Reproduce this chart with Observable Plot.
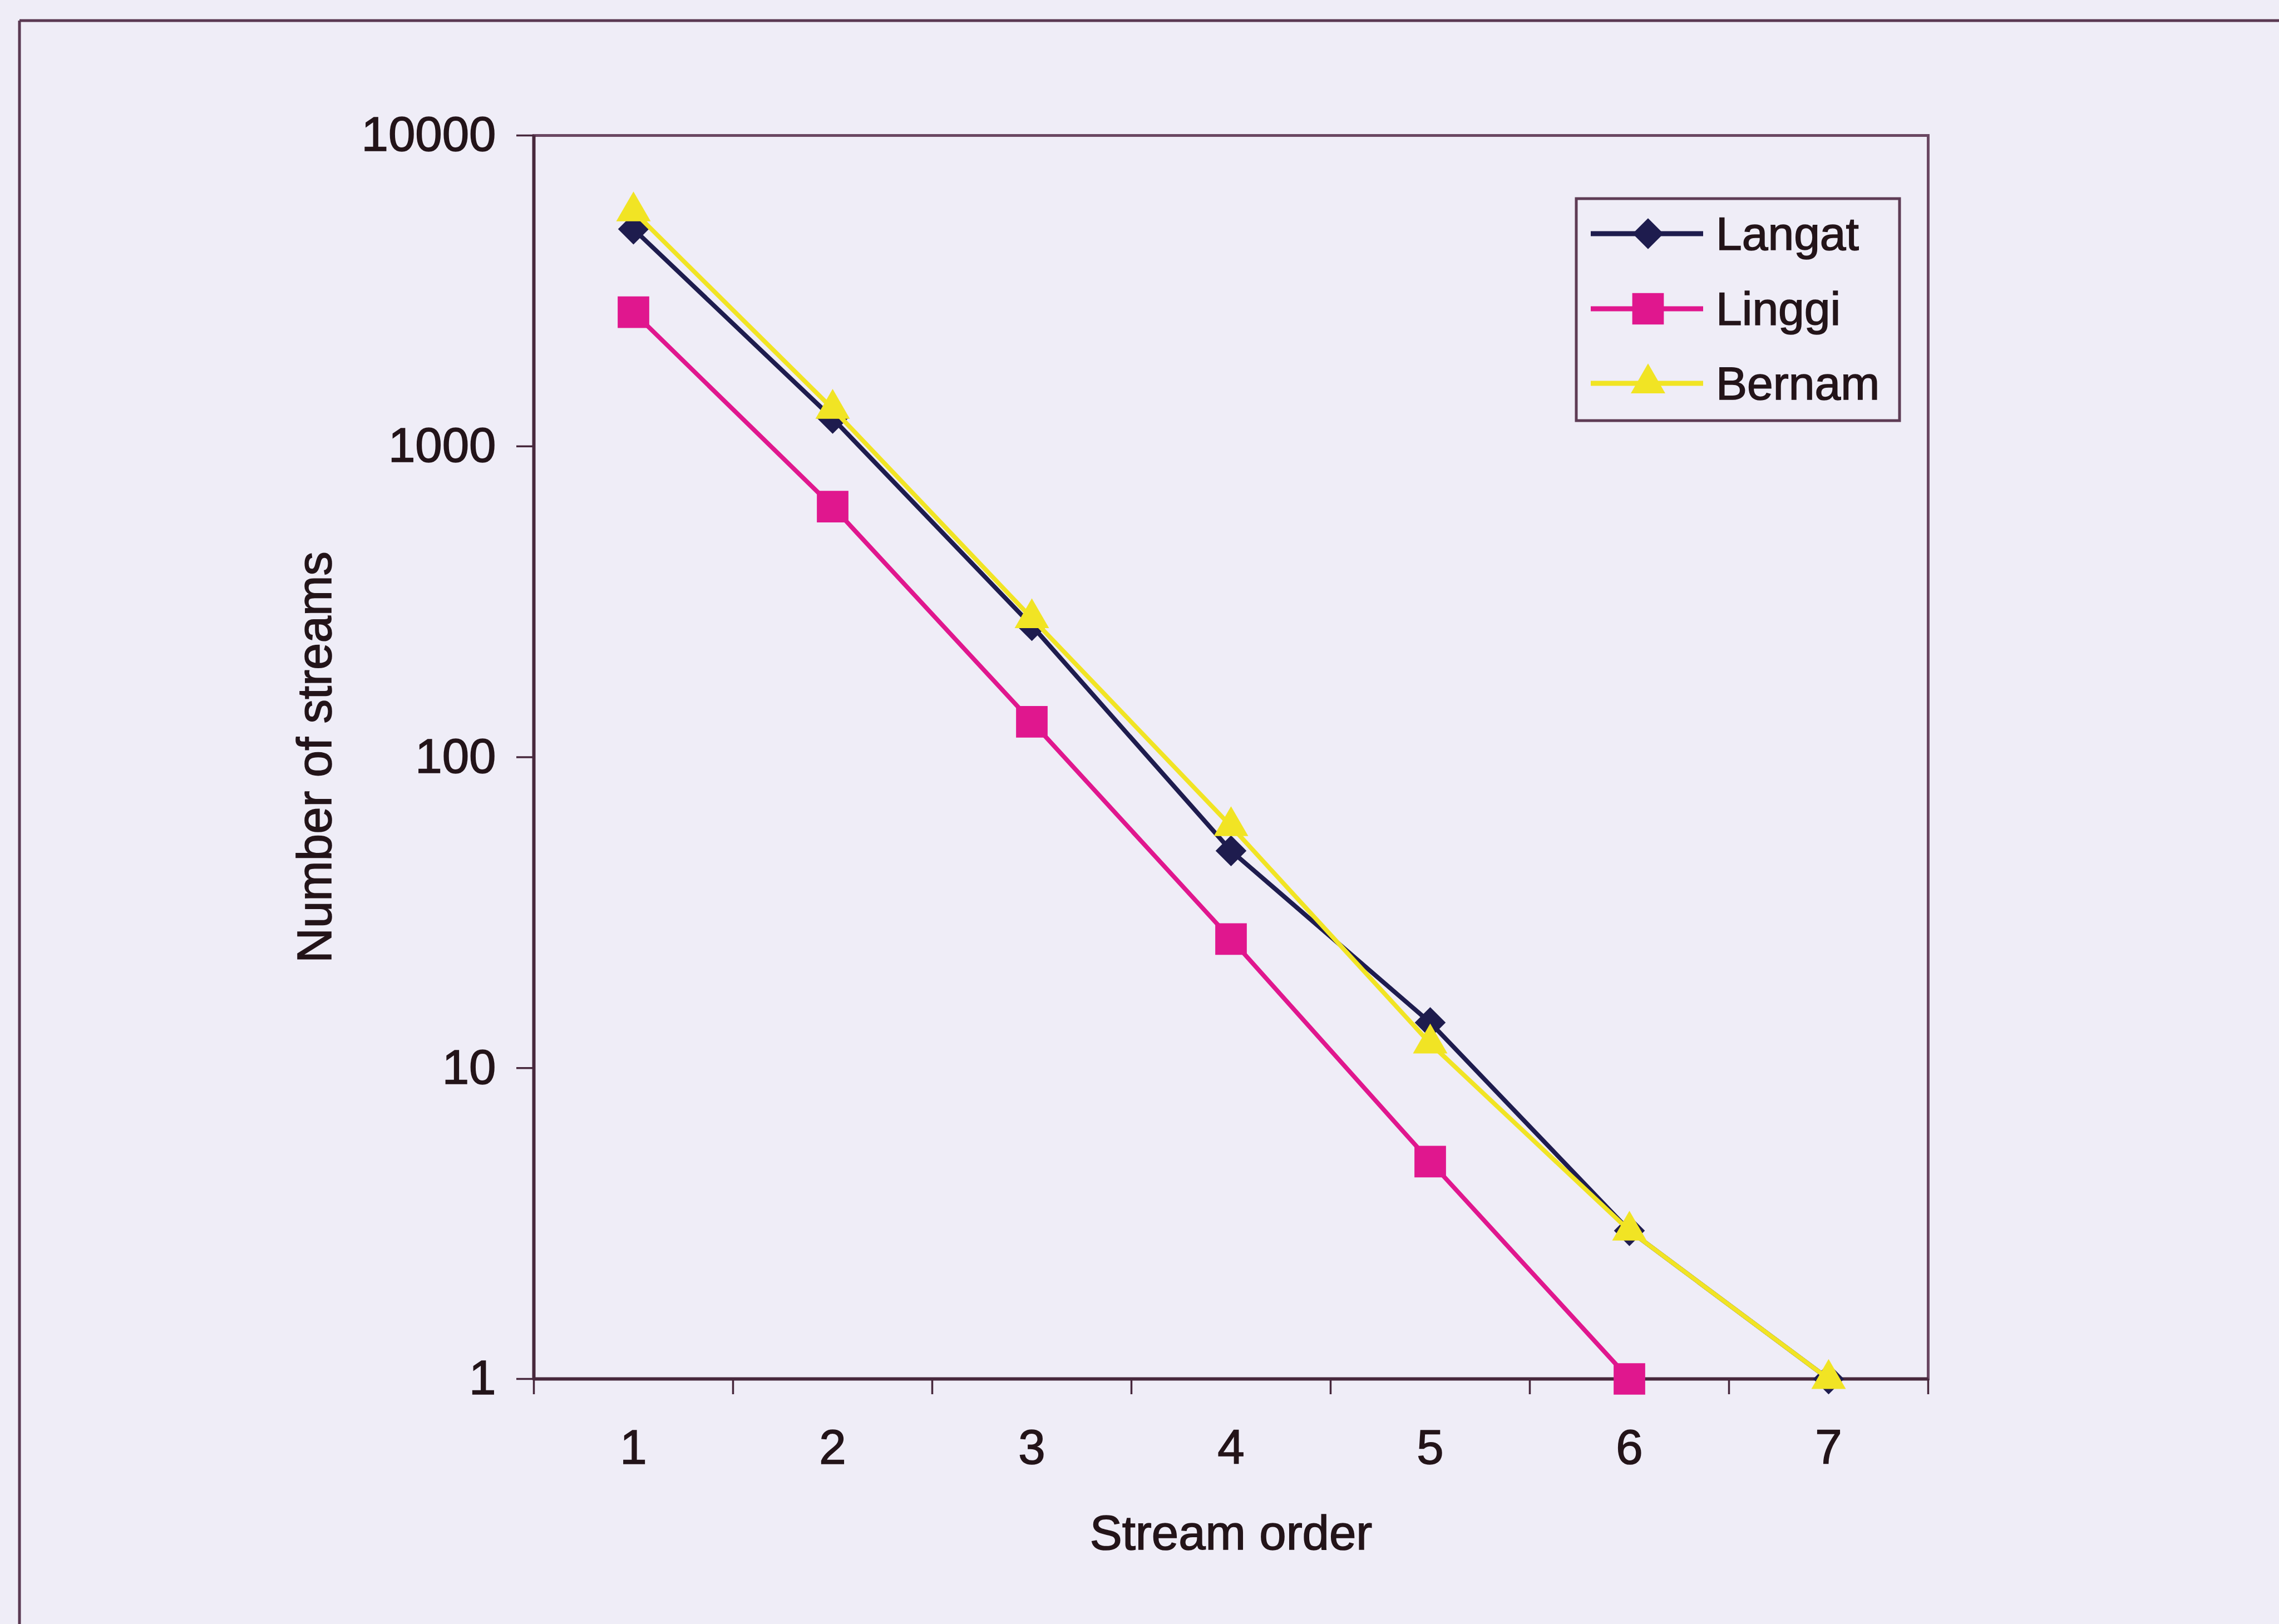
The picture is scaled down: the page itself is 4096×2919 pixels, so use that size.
<!DOCTYPE html>
<html>
<head>
<meta charset="utf-8">
<script src="https://cdn.jsdelivr.net/npm/d3@7"></script>
<script src="https://cdn.jsdelivr.net/npm/@observablehq/plot@0.6"></script>
<style>
  html, body { margin: 0; padding: 0; background: #efedf7; }
  #chart { position: relative; width: 4096px; height: 2919px; overflow: hidden; background: #efedf7; }
  #chart svg { display: block; }
  #chart svg text { stroke: #231419; stroke-width: 1.6px; paint-order: stroke; }
</style>
</head>
<body>
<div id="chart"></div>
<script>
// ---- data ----
const orders = [1, 2, 3, 4, 5, 6, 7];
const langat = [5000, 1230, 265, 50, 14, 3, 1];
const linggi = [2700, 640, 130, 26, 5, 1, null];
const bernam = [5700, 1320, 280, 60, 12, 3, 1];
const seriesNames = ["Langat", "Linggi", "Bernam"];
const yTicks = [1, 10, 100, 1000, 10000];
const xTickEdges = [0.5, 1.5, 2.5, 3.5, 4.5, 5.5, 6.5, 7.5];

// ---- styling ----
const colors = { Langat: "#1e1c4e", Linggi: "#e0178e", Bernam: "#f1e424" };
const symbols = { Langat: "diamond2", Linggi: "square", Bernam: "triangle" };
const d3symbols = { Langat: d3.symbolDiamond2, Linggi: d3.symbolSquare, Bernam: d3.symbolTriangle };
const radii = { Langat: 25, Linggi: 32, Bernam: 23 };
const axisColor = "#47283c";
const frameColor = "#6a4762";
const textColor = "#231419";
const font = "'Liberation Sans', Arial, Helvetica, sans-serif";

const rows = [];
[langat, linggi, bernam].forEach((vals, si) => {
  vals.forEach((v, i) => {
    if (v != null) rows.push({ series: seriesNames[si], order: orders[i], count: v });
  });
});

const seriesMarks = seriesNames.flatMap(name => {
  const d = rows.filter(r => r.series === name);
  return [
    Plot.line(d, { x: "order", y: "count", stroke: colors[name], strokeWidth: 8, strokeLinejoin: "round" }),
    Plot.dot(d, { x: "order", y: "count", symbol: symbols[name], r: radii[name], fill: colors[name], stroke: "none" })
  ];
});

const W = 4096, H = 2919;
const chart = Plot.plot({
  width: W,
  height: H,
  marginLeft: 959,
  marginRight: 631,
  marginTop: 243,
  marginBottom: 441,
  style: { background: "transparent", fontFamily: font, color: textColor },
  x: { type: "linear", domain: [0.5, 7.5] },
  y: { type: "log", domain: [1, 10000] },
  marks: [
    Plot.frame({ stroke: frameColor, strokeWidth: 5 }),
    Plot.ruleX([0.5], { stroke: axisColor, strokeWidth: 6 }),
    Plot.ruleY([1], { stroke: axisColor, strokeWidth: 6 }),
    Plot.axisY({
      ticks: yTicks, tickFormat: d => String(d), tickSize: 31, tickPadding: 37,
      fontSize: 87, stroke: axisColor, strokeWidth: 3.5,
      label: "Number of streams", labelAnchor: "center", labelOffset: 426, labelArrow: "none"
    }),
    Plot.axisX({
      ticks: xTickEdges, tickSize: 28, tickFormat: () => "", stroke: axisColor, strokeWidth: 3.5, label: null
    }),
    Plot.axisX({
      ticks: orders, tickFormat: d => String(d), tickSize: 0, tickPadding: 91, fontSize: 87,
      label: "Stream order", labelAnchor: "center", labelOffset: 306, labelArrow: "none"
    }),
    ...seriesMarks
  ]
});

document.getElementById("chart").appendChild(chart);

// ---- decorations: outer border + legend box ----
const svg = d3.select(chart);
const deco = svg.insert("g", ":first-child");
deco.append("line").attr("x1", 35).attr("x2", W + 10).attr("y1", 37).attr("y2", 37)
  .attr("stroke", "#5a3952").attr("stroke-width", 5);
deco.append("line").attr("x1", 35).attr("x2", 35).attr("y1", 37).attr("y2", H + 10)
  .attr("stroke", "#5a3952").attr("stroke-width", 5);

const lg = svg.append("g").attr("font-family", font).attr("fill", textColor).attr("text-anchor", "start");
lg.append("rect").attr("x", 2833).attr("y", 357).attr("width", 581).attr("height", 399)
  .attr("fill", "#efedf7").attr("stroke", "#5e3c55").attr("stroke-width", 5);
const rowY = [420, 555, 689];
seriesNames.forEach((name, i) => {
  lg.append("line").attr("x1", 2859).attr("x2", 3061).attr("y1", rowY[i]).attr("y2", rowY[i])
    .attr("stroke", colors[name]).attr("stroke-width", 9);
  lg.append("path").attr("d", d3.symbol(d3symbols[name], Math.PI * radii[name] * radii[name])())
    .attr("transform", `translate(2962,${rowY[i]})`).attr("fill", colors[name]);
  lg.append("text").attr("x", 3084).attr("y", rowY[i]).attr("dy", "0.35em")
    .attr("text-anchor", "start").attr("font-size", 84).text(name);
});
</script>
</body>
</html>
